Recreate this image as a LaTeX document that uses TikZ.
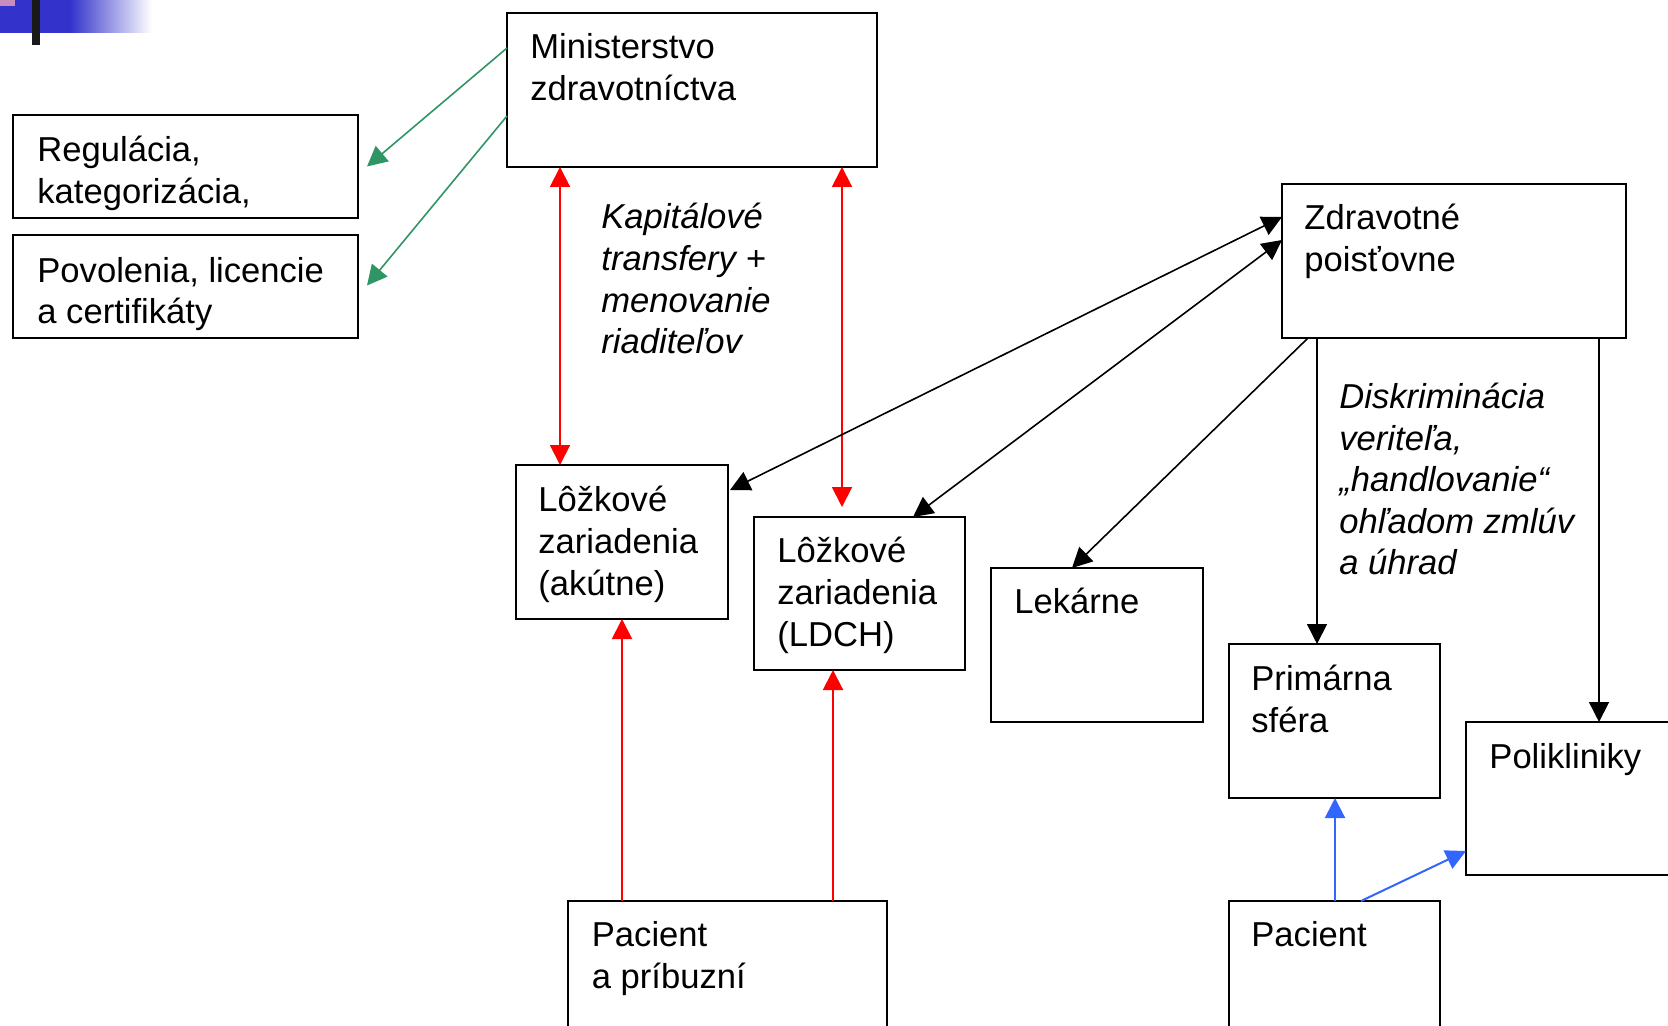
\documentclass[tikz,border=0pt]{standalone}
\usepackage{fontspec}
\setmainfont{Liberation Sans}
\usetikzlibrary{arrows.meta,calc,fit}
\definecolor{grn}{RGB}{46,150,100}
\definecolor{rd}{RGB}{255,0,0}
\definecolor{blu}{RGB}{51,102,255}
\definecolor{barblue}{RGB}{51,51,204}
\definecolor{pinkish}{RGB}{200,140,190}
\begin{document}
\begin{tikzpicture}[x=0.5pt,y=-0.5pt,
 box/.style={draw=black, line width=1pt, inner sep=0pt, outer sep=0pt},
 tx/.style={font=\fontsize{17.3}{20.8}\selectfont, align=left, inner sep=0pt, anchor=north west},
 itx/.style={tx, font=\fontsize{17.3}{20.8}\selectfont\itshape},
 con/.style={line width=0.8pt, -{Triangle[length=10pt,width=10pt]}},
 dcon/.style={line width=0.8pt, {Triangle[length=10pt,width=10pt]}-{Triangle[length=10pt,width=10pt]}},
]
\useasboundingbox (0,0) rectangle (1668,1026);
\clip (0,0) rectangle (1668,1026);
% top-left decoration
\fill[barblue] (0,0) rectangle (70,33);
\shade[left color=barblue, right color=white] (70,0) rectangle (152,33);
\fill[pinkish] (0,0) rectangle (15,6);
\fill[black!90] (32,0) rectangle (40,45);
% boxes
\node[box, fit={(507,13) (877,167)}] (min) {};
\node[box, fit={(13,115) (358,218)}] (reg) {};
\node[box, fit={(13,235) (358,338)}] (pov) {};
\node[box, fit={(1282,184) (1626,338)}] (zp) {};
\node[box, fit={(516,465) (728,619)}] (akut) {};
\node[box, fit={(754,517) (965,670)}] (ldch) {};
\node[box, fit={(991,568) (1203,722)}] (lek) {};
\node[box, fit={(1229,644) (1440,798)}] (prim) {};
\node[box, fit={(1466,722) (1700,875)}] (pol) {};
\node[box, fit={(568,901) (887,1060)}] (pac1) {};
\node[box, fit={(1229,901) (1440,1060)}] (pac2) {};
% connectors
\draw[con, grn] ($(min.north west)+(0,35)$) -- ($(reg.east)+(9,0)$);
\draw[con, grn] ($(min.north west)+(0,103)$) -- ($(pov.east)+(9,-1)$);
\draw[dcon, rd, line width=1pt] ($(akut.north west)+(44,0)$) -- ($(min.south west)+(53,0)$);
\draw[dcon, rd, line width=1pt] ($(ldch.north west)+(88,-10)$) -- ($(min.south west)+(335,0)$);
\draw[con, rd, line width=1pt] ($(pac1.north west)+(54,0)$) -- ($(akut.south west)+(106,0)$);
\draw[con, rd, line width=1pt] ($(pac1.north west)+(265,0)$) -- ($(ldch.south west)+(79,0)$);
\draw[dcon] ($(zp.north west)+(0,33)$) -- ($(akut.north east)+(2,25)$);
\draw[dcon] ($(zp.north west)+(0,56)$) -- ($(ldch.north west)+(159,0)$);
\draw[con] ($(zp.south west)+(26,0)$) -- ($(lek.north west)+(81,0)$);
\draw[con] ($(zp.south west)+(35,0)$) -- ($(prim.north west)+(88,0)$);
\draw[con] ($(zp.south west)+(317,0)$) -- ($(pol.north west)+(133,0)$);
\draw[con, blu, line width=1pt] ($(pac2.north west)+(106,0)$) -- ($(prim.south west)+(106,0)$);
\draw[con, blu, line width=1pt] ($(pac2.north west)+(132,0)$) -- ($(pol.south west)+(0,-24)$);
% texts
\node[tx] (tmin) at (530,29.1) {\strut Ministerstvo\\zdravotníctva};
\node[tx] (treg) at (37,132.3) {\strut Regulácia,\\kategorizácia,};
\node[tx] (tpov) at (37,252.5) {\strut Povolenia, licencie\\a certifikáty};
\node[itx] (tkap) at (601,199.4) {\strut Kapitálové\\transfery +\\menovanie\\riaditeľov};
\node[tx] (tzp) at (1304,200.4) {\strut Zdravotné\\poisťovne};
\node[itx] (tdisk) at (1339,378.9) {\strut Diskriminácia\\veriteľa,\\„handlovanie“\\ohľadom zmlúv\\a úhrad};
\node[tx] (takut) at (538,482.3) {\strut Lôžkové\\zariadenia\\(akútne)};
\node[tx] (tldch) at (777,533.4) {\strut Lôžkové\\zariadenia\\(LDCH)};
\node[tx] (tlek) at (1014,584.4) {\strut Lekárne};
\node[tx] (tprim) at (1251,661) {\strut Primárna\\sféra};
\node[tx] (tpol) at (1489,738.7) {\strut Polikliniky};
\node[tx] (tpac1) at (591.5,917.4) {\strut Pacient\\a príbuzní};
\node[tx] (tpac2) at (1251,917.4) {\strut Pacient};
\end{tikzpicture}
\end{document}
